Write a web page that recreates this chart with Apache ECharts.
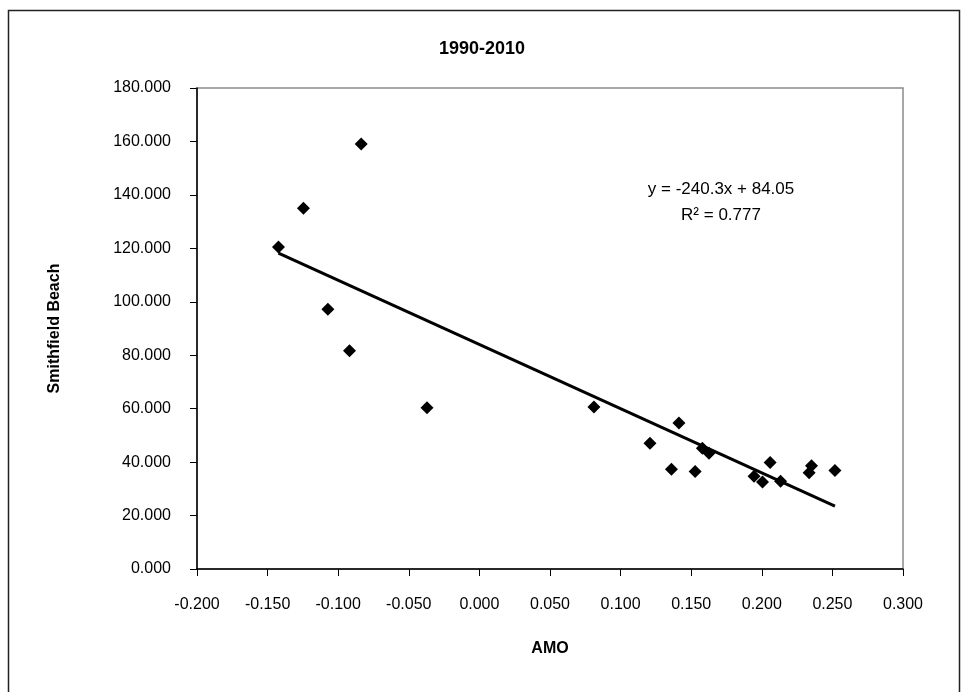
<!DOCTYPE html>
<html>
<head>
<meta charset="utf-8">
<script src="https://cdn.jsdelivr.net/npm/echarts@6/dist/echarts.min.js"></script>
<style>
html,body{margin:0;padding:0;background:#fff;}
#chart{width:964px;height:692px;}
</style>
</head>
<body>
<div id="chart"></div>
<script>
// AMO (x) values
const amo = [-0.1423, -0.1246, -0.0837, -0.1073, -0.0920, -0.0371, 0.0811, 0.1208, 0.1413, 0.1360,
             0.1528, 0.1579, 0.1626, 0.2059, 0.1945, 0.2005, 0.2133, 0.2352, 0.2335, 0.2518];
// Smithfield Beach (y) values
const smithfield = [120.5, 135.0, 159.0, 97.2, 81.7, 60.3, 60.6, 47.1, 54.6, 37.3,
                    36.5, 45.2, 43.3, 39.9, 34.7, 32.6, 32.8, 38.6, 36.0, 36.9];
// Linear trendline endpoints (from y = -240.3x + 84.05 over the data range)
const trendX = [-0.1423, 0.2518];
const trendY = [118.24, 23.54];
const titleText = '1990-2010';
const xName = 'AMO';
const yName = 'Smithfield Beach';
const eqLine1 = 'y = -240.3x + 84.05';
const eqLine2 = 'R\u00b2 = 0.777';

const points = amo.map((x, i) => [x, smithfield[i]]);
const trend = trendX.map((x, i) => [x, trendY[i]]);
const FONT = 'Liberation Sans';

const chart = echarts.init(document.getElementById('chart'));
chart.setOption({
  animation: false,
  backgroundColor: '#fff',
  textStyle: { fontFamily: FONT },
  title: {
    text: titleText, left: 'center', top: 35,
    textStyle: { fontFamily: FONT, fontSize: 18, fontWeight: 'bold', color: '#000' }
  },
  grid: {
    left: 197, top: 88, width: 706, height: 481,
    show: true, borderColor: '#8a8a8a', borderWidth: 1.5, backgroundColor: '#fff'
  },
  xAxis: {
    type: 'value', min: -0.2, max: 0.3, interval: 0.05,
    name: xName, nameLocation: 'middle', nameGap: 72,
    nameTextStyle: { fontFamily: FONT, fontSize: 16, fontWeight: 'bold', color: '#000' },
    axisLine: { onZero: false, lineStyle: { color: '#000', width: 1.5 } },
    axisTick: { show: true, inside: false, length: 7, lineStyle: { color: '#000', width: 1 } },
    axisLabel: { margin: 28, fontFamily: FONT, fontSize: 16, color: '#000',
                 formatter: v => v.toFixed(3) },
    splitLine: { show: false }
  },
  yAxis: {
    type: 'value', min: 0, max: 180, interval: 20, position: 'left',
    name: yName, nameLocation: 'middle', nameGap: 134, nameRotate: 90,
    nameTextStyle: { fontFamily: FONT, fontSize: 16, fontWeight: 'bold', color: '#000' },
    axisLine: { show: true, onZero: false, lineStyle: { color: '#000', width: 1.5 } },
    axisTick: { show: true, inside: false, length: 7, lineStyle: { color: '#000', width: 1 } },
    axisLabel: { margin: 26, fontFamily: FONT, fontSize: 16, color: '#000',
                 formatter: v => v.toFixed(3) },
    splitLine: { show: false }
  },
  graphic: [
    { type: 'rect', left: 6, top: 8, z: -10, silent: true,
      shape: { width: 951, height: 700 },
      style: { fill: 'none', stroke: '#222', lineWidth: 1.5 } },
    { type: 'text', x: 721, y: 189, z: 100,
      style: { text: eqLine1, font: '17px "Liberation Sans"', fill: '#000',
               align: 'center', verticalAlign: 'middle' } },
    { type: 'text', x: 721, y: 215, z: 100,
      style: { text: eqLine2, font: '17px "Liberation Sans"', fill: '#000',
               align: 'center', verticalAlign: 'middle' } }
  ],
  series: [
    {
      type: 'scatter', data: points, symbol: 'diamond', symbolSize: 13,
      itemStyle: { color: '#000', opacity: 1 }, z: 3
    },
    {
      type: 'line', data: trend, showSymbol: false, symbol: 'none',
      lineStyle: { color: '#000', width: 3 }, z: 4
    }
  ]
});
</script>
</body>
</html>
